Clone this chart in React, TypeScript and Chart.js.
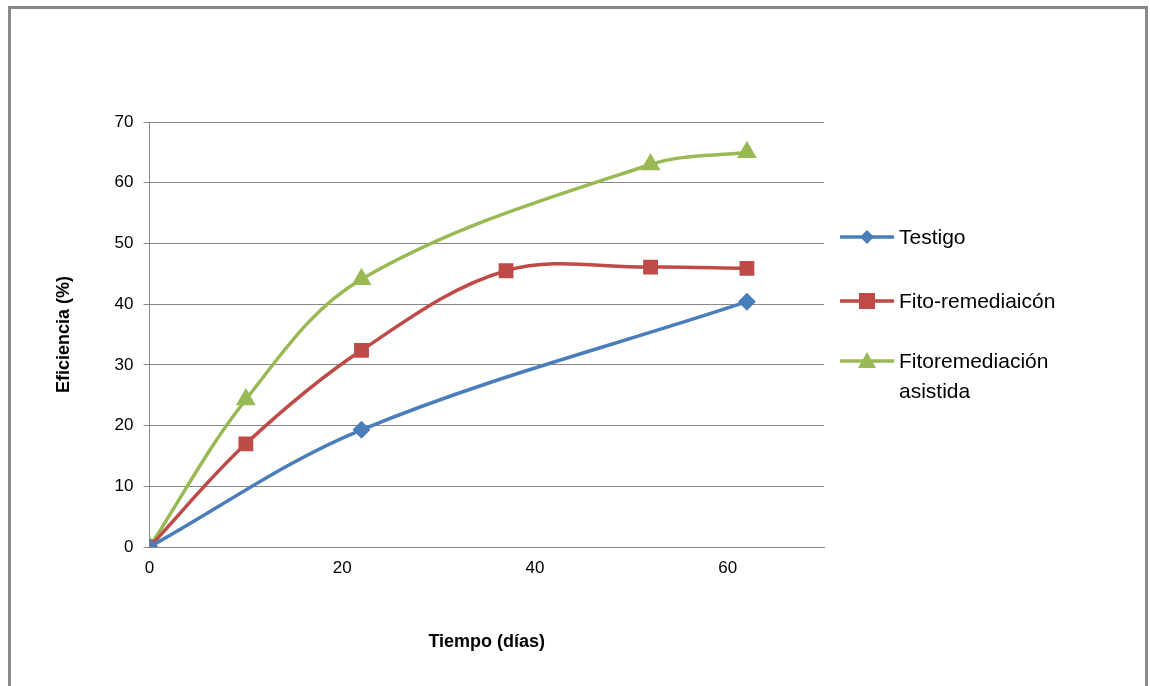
import React, { useEffect, useRef } from 'react';
import Chart from 'chart.js/auto';

const seriesNames = ['Testigo', 'Fito-remediaicón', 'Fitoremediación asistida'];
const testigoX = [0, 22, 62];
const testigoY = [0, 19.3, 40.4];
const fitoX = [0, 10, 22, 37, 52, 62];
const fitoY = [0, 17, 32.4, 45.5, 46.1, 45.9];
const asistidaX = [0, 10, 22, 52, 62];
const asistidaY = [0, 24.3, 44.1, 63, 65];
const colors = ['#4a7ebb', '#be4b48', '#98b954'];
const markers = ['rectRot', 'rect', 'triangle'];

const pts = (xs: number[], ys: number[]) => xs.map((x, i) => ({ x, y: ys[i] }));

export default function App() {
  const chartRef = useRef<HTMLCanvasElement | null>(null);

  useEffect(() => {
    if (!chartRef.current) return;
    const data = [pts(testigoX, testigoY), pts(fitoX, fitoY), pts(asistidaX, asistidaY)];
    const chart = new Chart(chartRef.current, {
      type: 'scatter',
      data: {
        datasets: data.map((d, i) => ({
          label: seriesNames[i],
          data: d,
          showLine: true,
          tension: 0.35,
          borderColor: colors[i],
          backgroundColor: colors[i],
          borderWidth: 3.5,
          pointStyle: markers[i] as any,
          pointRadius: i === 0 ? 6.5 : 8,
        })),
      },
      options: {
        animation: false,
        responsive: false,
        layout: { padding: { top: 113, right: 321, left: 38, bottom: 22 } },
        plugins: { legend: { display: false }, tooltip: { enabled: false } },
        scales: {
          x: {
            min: 0, max: 70,
            ticks: { stepSize: 20, color: '#000', font: { family: 'Liberation Sans', size: 17 },
              callback: (v: any) => (v === 70 ? '' : v) },
            grid: { display: false },
            border: { color: '#888' },
            title: { display: true, text: 'Tiempo (días)', color: '#000', padding: { top: 50 },
              font: { family: 'Liberation Sans', size: 18, weight: 'bold' } },
          },
          y: {
            min: 0, max: 70,
            ticks: { stepSize: 10, color: '#000', padding: 10, font: { family: 'Liberation Sans', size: 17 } },
            grid: { color: '#888', drawTicks: true, tickLength: 6 },
            border: { color: '#888' },
            title: { display: true, text: 'Eficiencia (%)', color: '#000', padding: { bottom: 30 },
              font: { family: 'Liberation Sans', size: 18, weight: 'bold' } },
          },
        },
      },
    });
    return () => chart.destroy();
  }, []);

  const legendItem = (i: number, top: number, lines: string[]) => (
    <div key={i} style={{ position: 'absolute', left: 827, top, display: 'flex', alignItems: 'flex-start' }}>
      <svg width="58" height="24">
        <line x1="2" y1="12" x2="56" y2="12" stroke={colors[i]} strokeWidth="3.5" />
        {i === 0 && <polygon points="29,5 36,12 29,19 22,12" fill={colors[i]} />}
        {i === 1 && <rect x="21" y="4" width="16" height="16" fill={colors[i]} />}
        {i === 2 && <polygon points="29,3 38,19 20,19" fill={colors[i]} />}
      </svg>
      <div style={{ fontFamily: 'Liberation Sans', fontSize: 21, lineHeight: '30px', marginTop: -3, marginLeft: 3 }}>
        {lines.map((l, k) => <div key={k}>{l}</div>)}
      </div>
    </div>
  );

  return (
    <div style={{ position: 'absolute', left: 8, top: 6, width: 1134, height: 700, border: '3px solid #888', background: '#fff' }}>
      <canvas ref={chartRef} width={1134} height={670} style={{ position: 'absolute', left: 0, top: 0 }} />
      {legendItem(0, 216, ['Testigo'])}
      {legendItem(1, 280, ['Fito-remediaicón'])}
      {legendItem(2, 340, ['Fitoremediación', 'asistida'])}
    </div>
  );
}
